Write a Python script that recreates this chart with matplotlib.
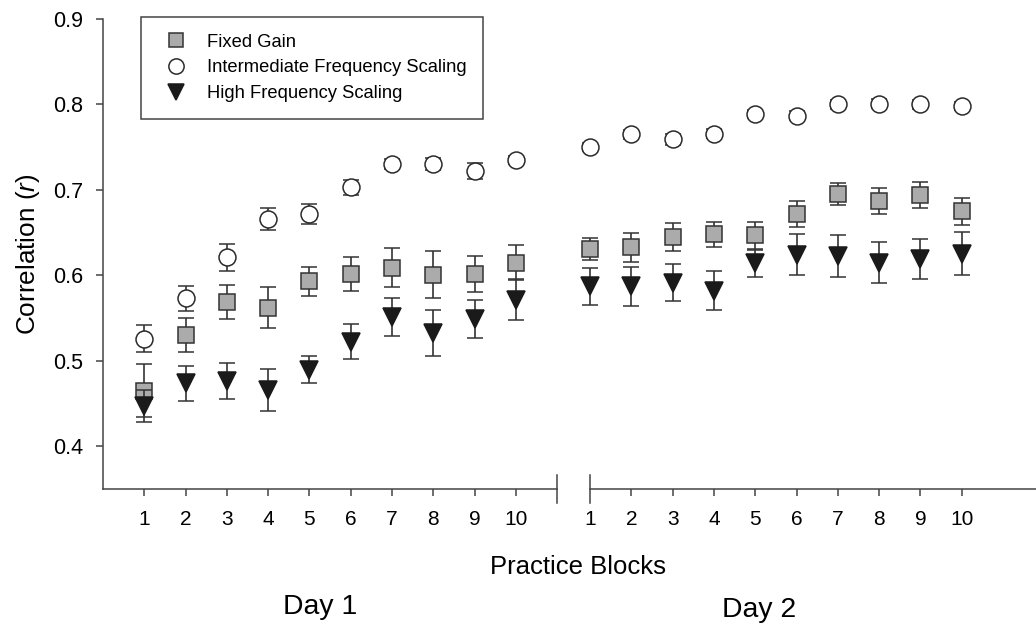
import matplotlib
matplotlib.use("Agg")
import matplotlib.pyplot as plt
import numpy as np

plt.rcParams['font.family'] = ['Liberation Sans', 'DejaVu Sans']
plt.rcParams['mathtext.fontset'] = 'custom'
plt.rcParams['mathtext.rm'] = 'Liberation Sans'
plt.rcParams['mathtext.it'] = 'Liberation Sans:italic'

# ---- data -------------------------------------------------------------
blocks = [1, 2, 3, 4, 5, 6, 7, 8, 9, 10]
block_labels = [str(b) for b in blocks]
day_labels = ["Day 1", "Day 2"]
series_names = ["Fixed Gain", "Intermediate Frequency Scaling", "High Frequency Scaling"]

fixed_day1 = [0.465, 0.530, 0.569, 0.562, 0.593, 0.602, 0.609, 0.601, 0.602, 0.615]
fixed_day1_se = [0.031, 0.020, 0.020, 0.024, 0.017, 0.020, 0.023, 0.027, 0.021, 0.020]
fixed_day2 = [0.631, 0.633, 0.645, 0.648, 0.647, 0.672, 0.695, 0.687, 0.694, 0.675]
fixed_day2_se = [0.013, 0.017, 0.016, 0.015, 0.016, 0.015, 0.013, 0.015, 0.015, 0.016]

inter_day1 = [0.526, 0.573, 0.621, 0.666, 0.672, 0.703, 0.730, 0.730, 0.722, 0.735]
inter_day1_se = [0.016, 0.015, 0.016, 0.013, 0.012, 0.009, 0.006, 0.007, 0.009, 0.005]
inter_day2 = [0.750, 0.765, 0.759, 0.766, 0.789, 0.787, 0.800, 0.801, 0.800, 0.798]
inter_day2_se = [0.005, 0.005, 0.006, 0.005, 0.005, 0.005, 0.005, 0.005, 0.005, 0.005]

high_day1 = [0.447, 0.4735, 0.4765, 0.466, 0.4895, 0.5225, 0.5515, 0.533, 0.549, 0.5715]
high_day1_se = [0.019, 0.020, 0.021, 0.025, 0.016, 0.020, 0.022, 0.027, 0.022, 0.024]
high_day2 = [0.587, 0.587, 0.5915, 0.582, 0.614, 0.624, 0.6225, 0.615, 0.619, 0.6255]
high_day2_se = [0.022, 0.023, 0.022, 0.023, 0.016, 0.024, 0.025, 0.024, 0.023, 0.025]

# ---- layout -----------------------------------------------------------
DAY2_SHIFT = 10.8          # day 2 block k sits at k + DAY2_SHIFT
BREAK_LEFT, BREAK_RIGHT = 11.0, 11.8
X_MAX = 22.6
Y_MIN, Y_MAX = 0.35, 0.9

fig = plt.figure(figsize=(10.36, 6.26), dpi=100)
ax = fig.add_axes([103 / 1036, 1 - 489 / 626, 1 - 103 / 1036, (489 - 19) / 626])

x1 = np.array(blocks, dtype=float)
x2 = x1 + DAY2_SHIFT
xs = np.concatenate([x1, x2])

ecol = '#333333'
common = dict(linestyle='none', ecolor=ecol, elinewidth=1.2, capsize=5.8,
              capthick=1.2, markeredgewidth=1.1)

c_fixed = ax.errorbar(xs, fixed_day1 + fixed_day2, yerr=fixed_day1_se + fixed_day2_se,
                      marker='s', markersize=11.5, markerfacecolor='#ababab',
                      markeredgecolor='#333333', zorder=3, **common)
c_inter = ax.errorbar(xs, inter_day1 + inter_day2, yerr=inter_day1_se + inter_day2_se,
                      marker='o', markersize=12.2, markerfacecolor='white',
                      markeredgecolor='#2a2a2a', zorder=4, **common)
c_high = ax.errorbar(xs, high_day1 + high_day2, yerr=high_day1_se + high_day2_se,
                     marker='v', markersize=12.8, markerfacecolor='#1a1a1a',
                     markeredgecolor='#1a1a1a', zorder=5, **common)

ax.set_xlim(0, X_MAX)
ax.set_ylim(Y_MIN, Y_MAX)

# spines
spine_col = '#444444'
for s in ['top', 'right', 'bottom']:
    ax.spines[s].set_visible(False)
ax.spines['left'].set_color(spine_col)
ax.spines['left'].set_linewidth(1.1)

# broken x axis
ax.plot([0, BREAK_LEFT], [Y_MIN, Y_MIN], color=spine_col, lw=1.1, clip_on=False, zorder=6)
ax.plot([BREAK_RIGHT, X_MAX], [Y_MIN, Y_MIN], color=spine_col, lw=1.1, clip_on=False, zorder=6)
half = 14 / 856
for xb in (BREAK_LEFT, BREAK_RIGHT):
    ax.plot([xb, xb], [Y_MIN - half, Y_MIN + half], color=spine_col, lw=1.1,
            clip_on=False, zorder=6)

# ticks
ax.set_xticks(list(xs))
ax.set_xticklabels(block_labels + block_labels)
ax.tick_params(axis='x', length=5, width=1.1, color=spine_col, pad=10,
               labelsize=15, direction='out')
ax.xaxis.get_major_ticks()[10].tick1line.set_visible(False)

ax.set_yticks([0.4, 0.5, 0.6, 0.7, 0.8, 0.9])
ax.set_yticklabels(['0.4', '0.5', '0.6', '0.7', '0.8', '0.9'])
ax.tick_params(axis='y', length=5, width=1.1, color=spine_col, pad=9,
               labelsize=15.5, direction='out')

ax.set_ylabel('Correlation ($\\mathit{r}$)', fontsize=18.8)
ax.yaxis.set_label_coords(-0.080, 0.5)
ax.yaxis.label.set_va('center')

ax.set_xlabel('Practice Blocks', fontsize=18.5)
ax.xaxis.set_label_coords(0.509, -0.166)
ax.xaxis.label.set_va('center')

ax.text(5.25, -0.251, day_labels[0], transform=ax.get_xaxis_transform(),
        ha='center', va='center', fontsize=20.4)
ax.text(15.9, -0.257, day_labels[1], transform=ax.get_xaxis_transform(),
        ha='center', va='center', fontsize=20.4)

# legend shows the markers only
handles = [c_fixed[0], c_inter[0], c_high[0]]
leg = ax.legend(handles, series_names, loc='upper left',
                bbox_to_anchor=((140.7 - 103) / 933, (489 - 17.3) / 470),
                borderaxespad=0, fontsize=13.2, frameon=True, fancybox=False,
                borderpad=0.9, handlelength=2.0, handletextpad=0.7,
                labelspacing=0.47, markerscale=0.9, numpoints=1)
frame = leg.get_frame()
frame.set_edgecolor('#444444')
frame.set_linewidth(1.1)
frame.set_alpha(1)

fig.savefig('out.png', dpi=100)
